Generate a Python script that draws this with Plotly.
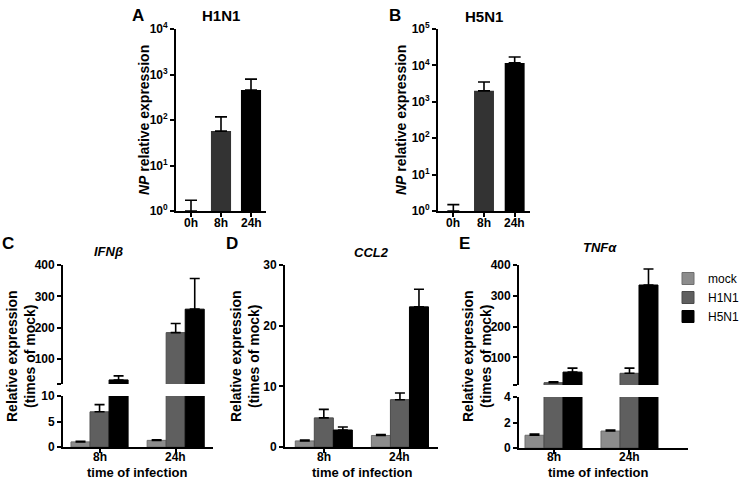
import plotly.graph_objects as go

# ── data ──────────────────────────────────────────────────────────────
np_times = ['0h', '8h', '24h']
np_h1n1 = [1.0, 57, 455]
np_h1n1_err = [0.72, 60, 335]
np_h5n1 = [1.0, 2000, 11700]
np_h5n1_err = [0.5, 1500, 5300]
np_ticks_a = [1, 10, 100, 1000, 10000]
np_ticks_b = [1, 10, 100, 1000, 10000, 100000]

times = ['8h', '24h']
groups = ['mock', 'H1N1', 'H5N1']

ifnb = {'mock': [1.0, 1.3], 'H1N1': [6.9, 184], 'H5N1': [33, 259]}
ifnb_err = {'mock': [0.1, 0.1], 'H1N1': [1.4, 29], 'H5N1': [13, 98]}
ccl2 = {'mock': [1.0, 1.9], 'H1N1': [4.8, 7.8], 'H5N1': [2.8, 23.1]}
ccl2_err = {'mock': [0.15, 0.15], 'H1N1': [1.4, 1.1], 'H5N1': [0.5, 2.9]}
tnfa = {'mock': [1.0, 1.33], 'H1N1': [17.5, 48], 'H5N1': [52, 335]}
tnfa_err = {'mock': [0.1, 0.07], 'H1N1': [3, 17], 'H5N1': [13, 52]}

# ── style ─────────────────────────────────────────────────────────────
W, H = 743, 485
FONT = 'Arial, Liberation Sans, sans-serif'
COLORS = {'mock': '#8c8c8c', 'H1N1': '#5f5f5f', 'H5N1': '#000000'}
EDGES = {'mock': '#6e6e6e', 'H1N1': '#4a4a4a', 'H5N1': '#000000'}
NP_COLORS = ['#333333', '#333333', '#000000']


def px(x):
    return x / W


def py(y):
    return 1 - y / H


def err_bar(vals, width=5):
    return dict(type='data', array=vals, arrayminus=[0] * len(vals), symmetric=False,
                color='black', thickness=1.6, width=width)


fig = go.Figure()

# panels A / B
for xa, ya, vals, errs in [('x', 'y', np_h1n1, np_h1n1_err), ('x2', 'y2', np_h5n1, np_h5n1_err)]:
    fig.add_trace(go.Bar(x=np_times, y=vals, xaxis=xa, yaxis=ya,
                         marker=dict(color=NP_COLORS, line=dict(width=0)),
                         error_y=err_bar(errs, 6), showlegend=False))

# panels C / D / E (C and E have broken axes: lower + upper segments)
gene_panels = [
    ('x3', ['y3', 'y6'], ifnb, ifnb_err),
    ('x4', ['y4'], ccl2, ccl2_err),
    ('x5', ['y5', 'y7'], tnfa, tnfa_err),
]
for pi, (xa, yas, vals, errs) in enumerate(gene_panels):
    for si, ya in enumerate(yas):
        for g in groups:
            fig.add_trace(go.Bar(
                x=times, y=vals[g], xaxis=xa, yaxis=ya, name=g,
                marker=dict(color=COLORS[g], line=dict(color=EDGES[g], width=1)),
                error_y=err_bar(errs[g], 5),
                legendgroup=g, showlegend=(pi == 0 and si == 0)))

axis_common = dict(showline=True, linecolor='black', linewidth=1.8, ticks='outside',
                   ticklen=4, tickwidth=1.6, tickcolor='black', showgrid=False,
                   zeroline=False, automargin=False,
                   tickfont=dict(family=FONT, size=12, color='black', weight='bold'))


def xaxis(x0, x1, anchor, rng):
    # tick labels are drawn as annotations below (plotly puts them too far down)
    return dict(domain=[px(x0), px(x1)], anchor=anchor, type='category', range=rng,
                fixedrange=True, showticklabels=False, **axis_common)


def yaxis(y_top, y_bot, anchor, **kw):
    d = dict(axis_common)
    d.update(domain=[py(y_bot), py(y_top)], anchor=anchor, fixedrange=True)
    d.update(kw)
    return d


def pow_labels(vals):
    return ['10<sup>%d</sup>' % len(str(v)[1:]) for v in vals]


fig.update_layout(
    template='none',
    width=W, height=H, margin=dict(l=0, r=0, t=0, b=0, autoexpand=False),
    paper_bgcolor='white', plot_bgcolor='white',
    barmode='group', bargap=0.25, bargroupgap=0,
    font=dict(family=FONT, color='black'),
    xaxis=xaxis(176, 266, 'y', [-0.5, 2.5]),
    xaxis2=xaxis(438, 530, 'y2', [-0.5, 2.5]),
    xaxis3=xaxis(63, 213, 'y3', [-0.48, 1.49]),
    xaxis4=xaxis(285, 438, 'y4', [-0.51, 1.5]),
    xaxis5=xaxis(519, 688, 'y5', [-0.454, 1.77]),
    yaxis=yaxis(29, 211, 'x', type='log', range=[0, 4], tickvals=np_ticks_a,
                ticktext=pow_labels(np_ticks_a)),
    yaxis2=yaxis(29, 211, 'x2', type='log', range=[0, 5], tickvals=np_ticks_b,
                 ticktext=pow_labels(np_ticks_b)),
    yaxis3=yaxis(396, 447, 'x3', range=[0, 10], tickvals=[0, 5, 10]),
    yaxis6=yaxis(265, 384, 'x3', range=[20, 400], tickvals=[20, 100, 200, 300, 400],
                 ticktext=['', '100', '200', '300', '400']),
    yaxis4=yaxis(265, 447, 'x4', range=[0, 30], tickvals=[0, 10, 20, 30]),
    yaxis5=yaxis(397, 448, 'x5', range=[0, 4], tickvals=[0, 2, 4]),
    yaxis7=yaxis(265, 385, 'x5', range=[10, 400], tickvals=[10, 100, 200, 300, 400],
                 ticktext=['', '100', '200', '300', '400']),
    legend=dict(x=px(668), y=py(264), xanchor='left', yanchor='top',
                font=dict(family=FONT, size=12, color='black'),
                itemwidth=30, tracegroupgap=0, bgcolor='rgba(0,0,0,0)'),
)
# bar widths for A/B (3 single bars)
fig.update_traces(selector=dict(xaxis='x'), width=0.67)
fig.update_traces(selector=dict(xaxis='x2'), width=0.65)


def note(text, x, y, size, angle=0, xref='paper'):
    fig.add_annotation(text=text, x=px(x) if xref == 'paper' else x, y=py(y),
                       xref=xref, yref='paper',
                       showarrow=False, textangle=angle, xanchor='center', yanchor='middle',
                       font=dict(family=FONT, size=size, color='black', weight='bold'))


# category tick labels
for xa in ['x', 'x2']:
    for t in np_times:
        note(t, t, 223, 12, xref=xa)
for xa in ['x3', 'x4', 'x5']:
    for t in times:
        note(t, t, 457, 12, xref=xa)

# panel letters and titles
note('A', 138, 15, 17)
note('H1N1', 221, 16, 15)
note('B', 395, 15, 17)
note('H5N1', 484, 17, 15)
note('C', 8, 243, 17)
note('<i>IFNβ</i>', 108, 251, 13)
note('D', 232, 243, 17)
note('<i>CCL2</i>', 372, 252, 13)
note('E', 464, 243, 17)
note('<i>TNFα</i>', 600, 248, 13)

# y titles
note('<i>NP</i> relative expression', 144, 120, 14, angle=-90)
note('<i>NP</i> relative expression', 401, 120, 14, angle=-90)
ytitle = 'Relative expression<br>(times of mock)'
note(ytitle, 21, 356, 14, angle=-90)
note(ytitle, 245, 356, 14, angle=-90)
note(ytitle, 477, 356, 14, angle=-90)

# x titles
note('time of infection', 137, 472, 13)
note('time of infection', 362, 472, 13)
note('time of infection', 598, 472, 13)

# page body has an 8px default margin; remove it so the figure fills the window
fig.write_html('out.html', config={'displayModeBar': False},
               post_script="document.body.style.margin='0';")
